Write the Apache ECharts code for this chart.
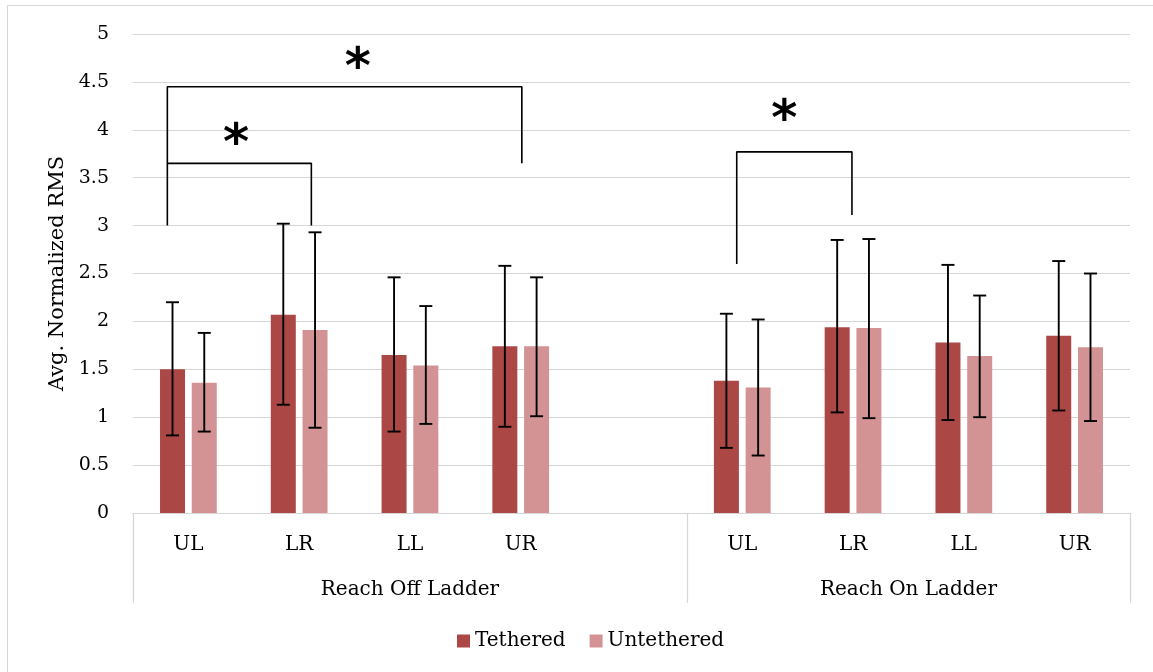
<!DOCTYPE html>
<html>
<head>
<meta charset="utf-8">
<script src="https://cdn.jsdelivr.net/npm/echarts@6/dist/echarts.min.js"></script>
<style>
html,body{margin:0;padding:0;background:#fff;}
#chart{width:1153px;height:672px;}
</style>
</head>
<body>
<div id="chart"></div>
<script>
// ---- data ----
const categories = ['UL', 'LR', 'LL', 'UR', '', 'UL', 'LR', 'LL', 'UR'];
const groupNames = ['Reach Off Ladder', 'Reach On Ladder'];
const groupCenters = [2, 6.5];          // slot position of each group label
const groupBounds = [-0.5, 4.5, 8.5];   // slot boundaries between groups

const tethered       = [1.50, 2.07, 1.65, 1.74, null, 1.38, 1.94, 1.78, 1.85];
const tetheredLow    = [0.81, 1.13, 0.85, 0.90, null, 0.68, 1.05, 0.97, 1.07];
const tetheredHigh   = [2.20, 3.02, 2.46, 2.58, null, 2.08, 2.85, 2.59, 2.63];
const untethered     = [1.36, 1.91, 1.54, 1.74, null, 1.31, 1.93, 1.64, 1.73];
const untetheredLow  = [0.85, 0.89, 0.93, 1.01, null, 0.60, 0.99, 1.00, 0.96];
const untetheredHigh = [1.88, 2.93, 2.16, 2.46, null, 2.02, 2.86, 2.27, 2.50];

const yTicks = [0, 0.5, 1, 1.5, 2, 2.5, 3, 3.5, 4, 4.5, 5];

// significance brackets: [slot x, value y] points
const bracketOffInner = [[-0.19, 3.00], [-0.19, 3.65], [1.11, 3.65], [1.11, 3.00]];
const bracketOffOuter = [[-0.19, 3.65], [-0.19, 4.45], [3.01, 4.45], [3.01, 3.65]];
const bracketOn       = [[4.95, 2.60], [4.95, 3.77], [5.99, 3.77], [5.99, 3.11]];
const stars = [[0.43, 3.93], [1.53, 4.73], [5.38, 4.19]];

// ---- style ----
const FONT = 'DejaVu Serif';
const T_COLOR = '#AB4846';
const U_COLOR = '#D39394';
const GRID_COLOR = '#d6d6d6';
const BAR_W = 25;
const BAR_GAP = 0.27;
const HALF_SHIFT = (BAR_W + BAR_W * BAR_GAP) / 2;

function errorSeries(low, high, shift) {
  const data = [];
  low.forEach((v, i) => { if (v != null) data.push([i, v, high[i]]); });
  return {
    type: 'custom',
    xAxisIndex: 0, yAxisIndex: 0,
    z: 5,
    silent: true,
    data: data,
    renderItem: function (params, api) {
      const i = api.value(0);
      const lo = api.coord([i, api.value(1)]);
      const hi = api.coord([i, api.value(2)]);
      const x = lo[0] + shift;
      const cap = 6.5;
      const st = { stroke: '#000', lineWidth: 1.9 };
      return {
        type: 'group',
        children: [
          { type: 'line', shape: { x1: x, y1: lo[1], x2: x, y2: hi[1] }, style: st },
          { type: 'line', shape: { x1: x - cap, y1: lo[1], x2: x + cap, y2: lo[1] }, style: st },
          { type: 'line', shape: { x1: x - cap, y1: hi[1], x2: x + cap, y2: hi[1] }, style: st }
        ]
      };
    }
  };
}

function bracketSeries(pts) {
  return {
    type: 'line', xAxisIndex: 1, yAxisIndex: 0,
    data: pts, symbol: 'none', silent: true, z: 6,
    lineStyle: { color: '#000', width: 1.6 }
  };
}

const chart = echarts.init(document.getElementById('chart'), null, { renderer: 'canvas' });
chart.setOption({
  animation: false,
  backgroundColor: '#fff',
  graphic: [{
    type: 'rect', silent: true,
    shape: { x: 7.5, y: 5.5, width: 1160, height: 700 },
    style: { fill: 'none', stroke: GRID_COLOR, lineWidth: 1 }
  }],
  grid: { left: 133, right: 23, top: 34, bottom: 159, containLabel: false },
  legend: {
    data: ['Tethered', 'Untethered'],
    left: 452, top: 626,
    itemWidth: 13, itemHeight: 13, itemGap: 24,
    icon: 'rect',
    textStyle: { fontFamily: FONT, fontSize: 20, color: '#000' }
  },
  xAxis: [{
    type: 'category',
    data: categories,
    axisLine: { lineStyle: { color: GRID_COLOR, width: 1.2 } },
    axisTick: { show: false },
    axisLabel: { fontFamily: FONT, fontSize: 20, color: '#000', margin: 22, interval: 0 }
  }, {
    type: 'value',
    min: -0.5, max: 8.5,
    position: 'bottom',
    axisLine: { show: false },
    splitLine: { show: false },
    axisTick: { show: true, customValues: groupBounds, length: 90, lineStyle: { color: GRID_COLOR, width: 1.2 } },
    axisLabel: {
      customValues: groupCenters,
      fontFamily: FONT, fontSize: 20, color: '#000', margin: 67,
      formatter: function (v) {
        const k = groupCenters.indexOf(v);
        return k >= 0 ? groupNames[k] : '';
      }
    }
  }],
  yAxis: {
    type: 'value',
    min: 0, max: 5, interval: 0.5,
    name: 'Avg. Normalized RMS',
    nameLocation: 'middle',
    nameGap: 58,
    nameTextStyle: { fontFamily: FONT, fontSize: 21, color: '#000' },
    axisLine: { show: false },
    axisTick: { show: false },
    splitLine: { lineStyle: { color: GRID_COLOR, width: 1.2 } },
    axisLabel: {
      fontFamily: FONT, fontSize: 19, color: '#000', margin: 24,
      formatter: function (v) { return yTicks.indexOf(v) >= 0 ? String(v) : ''; }
    }
  },
  series: [
    {
      name: 'Tethered', type: 'bar', xAxisIndex: 0,
      data: tethered, barWidth: BAR_W, barGap: (BAR_GAP * 100) + '%',
      itemStyle: { color: T_COLOR }
    },
    {
      name: 'Untethered', type: 'bar', xAxisIndex: 0,
      data: untethered, barWidth: BAR_W, barGap: (BAR_GAP * 100) + '%',
      itemStyle: { color: U_COLOR }
    },
    errorSeries(tetheredLow, tetheredHigh, -HALF_SHIFT),
    errorSeries(untetheredLow, untetheredHigh, HALF_SHIFT),
    bracketSeries(bracketOffInner),
    bracketSeries(bracketOffOuter),
    bracketSeries(bracketOn),
    {
      type: 'custom', xAxisIndex: 1, yAxisIndex: 0, silent: true, z: 7,
      data: stars,
      renderItem: function (params, api) {
        const p = api.coord([api.value(0), api.value(1)]);
        return {
          type: 'text', x: p[0], y: p[1] + 10,
          style: {
            text: '*', fontFamily: 'DejaVu Sans', fontSize: 50, fontWeight: 'bold', fill: '#000',
            textAlign: 'center', textVerticalAlign: 'middle'
          }
        };
      }
    }
  ]
});
</script>
</body>
</html>
